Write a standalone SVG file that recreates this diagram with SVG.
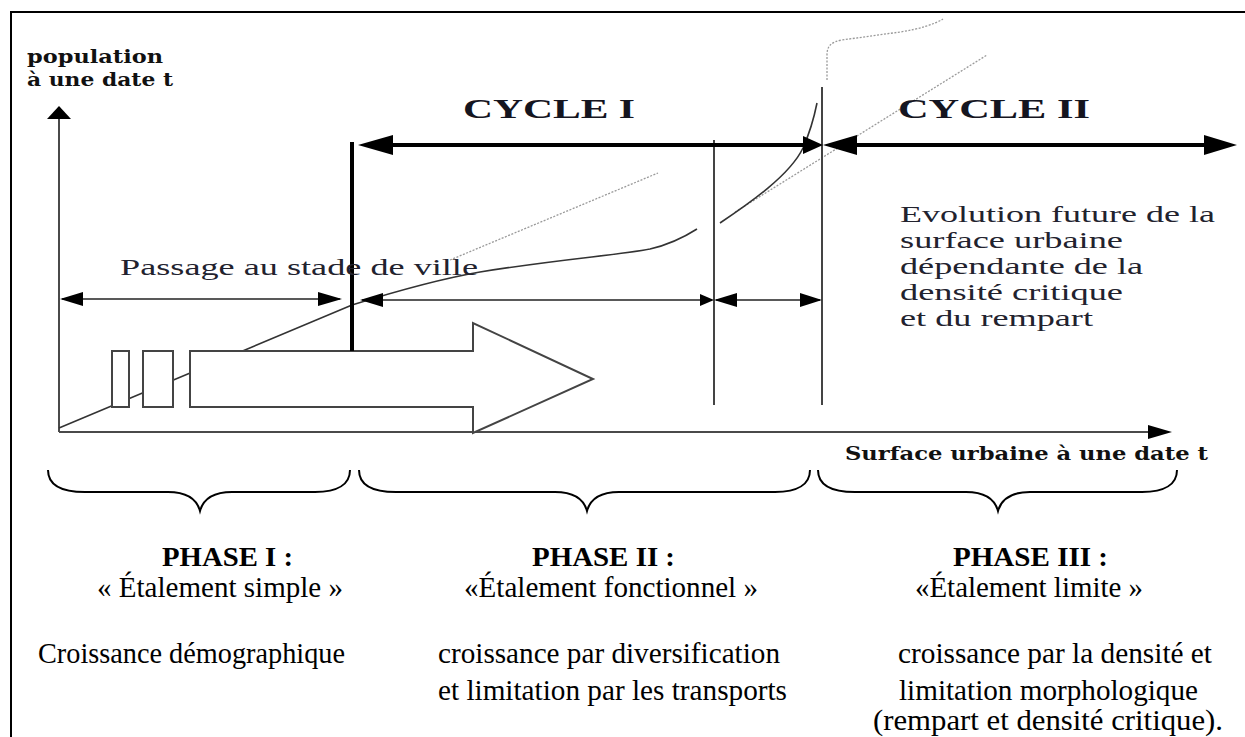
<svg xmlns="http://www.w3.org/2000/svg" width="1245" height="737" viewBox="0 0 1245 737">
  <style>
    .frame { fill: none; stroke: #000; stroke-width: 2; }
    .axis { fill: none; stroke: #4a4a4a; stroke-width: 2; }
    .head { fill: #000; stroke: none; }
    .thin { fill: none; stroke: #222; stroke-width: 1.5; }
    .thick { fill: none; stroke: #000; stroke-width: 4; }
    .guide { fill: none; stroke: #444; stroke-width: 2; }
    .curve { fill: none; stroke: #333; stroke-width: 1.6; }
    .dots { fill: none; stroke: #9a9a9a; stroke-width: 1.3; stroke-dasharray: 2 1.5; }
    .block { fill: #fff; stroke: #444; stroke-width: 2; }
    .brace { fill: none; stroke: #000; stroke-width: 2; }
    .axlabel { font-family: "DejaVu Serif", "Liberation Serif", serif; font-weight: bold; fill: #111; }
    .cycle { font-family: "Liberation Serif", serif; font-weight: bold; font-size: 27px; fill: #15151f; }
    .note { font-family: "Liberation Serif", serif; font-size: 23px; fill: #22222e; }
    .phase { font-family: "Liberation Serif", serif; font-weight: bold; font-size: 28px; fill: #000; }
    .body { font-family: "Liberation Serif", serif; font-size: 29px; fill: #000; }
  </style>

  <!-- outer frame: top and left rules -->
  <path class="frame" d="M11,737 L11,12 L1245,12"/>

  <!-- axes -->
  <g id="axes">
    <path class="axis" d="M59,432 L59,118"/>
    <polygon class="head" points="59,106 47,119 71,119"/>
    <path class="axis" d="M59,432 L1150,432"/>
    <polygon class="head" points="1172,432 1148,425 1148,439"/>
    <text class="axlabel" x="27" y="63" font-size="19" textLength="136" lengthAdjust="spacingAndGlyphs">population</text>
    <text class="axlabel" x="27" y="86" font-size="19" textLength="146" lengthAdjust="spacingAndGlyphs">à une date t</text>
    <text class="axlabel" x="845" y="460" font-size="18" textLength="363" lengthAdjust="spacingAndGlyphs">Surface urbaine à une date t</text>
  </g>

  <!-- growth curves -->
  <g id="curves">
    <path class="dots" d="M450,260 L658,173"/>
    <path class="dots" d="M735,212 L987,55"/>
    <path class="dots" d="M827,80 L827,55 C827,46 831,42 842,40 L900,32 C920,29 935,24 943,19"/>
    <path class="curve" d="M59,428 L352,305 C400,290 440,279 480,272 C560,259 620,255 650,249 C672,244 686,236 697,229"/>
    <path class="curve" d="M720,223 C750,203 790,175 803,148 C810,132 814,118 817,103"/>
  </g>

  <!-- spreading block arrow with its two leading bars -->
  <g id="spread-arrow">
    <rect class="block" x="112" y="351" width="17" height="56"/>
    <rect class="block" x="143" y="351" width="30" height="56"/>
    <polygon class="block" points="190,351 473,351 473,323 593,379 473,433 473,407 190,407"/>
  </g>

  <!-- phase boundaries -->
  <g id="boundaries">
    <path class="thick" d="M352,142 L352,351"/>
    <path class="guide" d="M714,140 L714,405"/>
    <path class="guide" d="M822,87 L822,405"/>
  </g>

  <!-- cycle spans -->
  <g id="cycle-1">
    <text class="cycle" x="463" y="118" textLength="172" lengthAdjust="spacingAndGlyphs">CYCLE I</text>
  </g>
  <g id="cycle-2">
    <text class="cycle" x="898" y="118" textLength="192" lengthAdjust="spacingAndGlyphs">CYCLE II</text>
  </g>

  <g id="connectors">
    <!-- cycle arrows -->
    <path class="thick" d="M385,145 L812,145"/>
    <polygon class="head" points="358,145 393,135 393,155"/>
    <polygon class="head" points="823,145 803,136 803,154"/>
    <path class="thick" d="M850,145 L1210,145"/>
    <polygon class="head" points="823,145 857,135 857,155"/>
    <polygon class="head" points="1237,145 1204,135 1204,155"/>

    <!-- phase spans -->
    <path class="thin" d="M62,299 L340,299"/>
    <polygon class="head" points="60,299 83,292 83,306"/>
    <polygon class="head" points="342,299 318,292 318,306"/>
    <path class="thin" d="M362,300 L712,300"/>
    <polygon class="head" points="360,300 383,293 383,307"/>
    <polygon class="head" points="714,300 700,294 700,306"/>
    <path class="thin" d="M716,300 L820,300"/>
    <polygon class="head" points="714,300 737,293 737,307"/>
    <polygon class="head" points="822,300 800,293 800,307"/>
  </g>

  <g id="labels">
    <text class="note" x="120" y="275" font-size="24" textLength="358" lengthAdjust="spacingAndGlyphs">Passage au stade de ville</text>
    <text class="note" x="900" y="222" textLength="315" lengthAdjust="spacingAndGlyphs">Evolution future de la</text>
    <text class="note" x="900" y="248" textLength="223" lengthAdjust="spacingAndGlyphs">surface urbaine</text>
    <text class="note" x="900" y="274" textLength="243" lengthAdjust="spacingAndGlyphs">dépendante de la</text>
    <text class="note" x="900" y="300" textLength="223" lengthAdjust="spacingAndGlyphs">densité critique</text>
    <text class="note" x="900" y="326" textLength="193" lengthAdjust="spacingAndGlyphs">et du rempart</text>
  </g>

  <!-- braces grouping the three phases -->
  <g id="braces">
    <path class="brace" d="M48,470 C48,484 60,492 85,492 L168,492 C188,492 197,500 200,511 C203,500 212,492 232,492 L315,492 C338,492 350,484 350,470"/>
    <path class="brace" d="M359,470 C359,484 371,492 396,492 L555,492 C575,492 584,500 587,511 C590,500 599,492 619,492 L775,492 C798,492 810,484 810,470"/>
    <path class="brace" d="M818,470 C818,484 830,492 855,492 L966,492 C986,492 995,500 998,511 C1001,500 1010,492 1030,492 L1142,492 C1165,492 1177,484 1177,470"/>
  </g>

  <g id="phase-1">
    <text class="phase" x="162" y="566" textLength="131" lengthAdjust="spacingAndGlyphs">PHASE I :</text>
    <text class="body" x="97" y="597" textLength="246" lengthAdjust="spacingAndGlyphs">« Étalement simple »</text>
    <text class="body" x="38" y="663" textLength="307" lengthAdjust="spacingAndGlyphs">Croissance démographique</text>
  </g>
  <g id="phase-2">
    <text class="phase" x="532" y="566" textLength="143" lengthAdjust="spacingAndGlyphs">PHASE II :</text>
    <text class="body" x="464" y="597" textLength="294" lengthAdjust="spacingAndGlyphs">«Étalement fonctionnel »</text>
    <text class="body" x="438" y="663" textLength="342" lengthAdjust="spacingAndGlyphs">croissance par diversification</text>
    <text class="body" x="438" y="700" textLength="349" lengthAdjust="spacingAndGlyphs">et limitation par les transports</text>
  </g>
  <g id="phase-3">
    <text class="phase" x="953" y="566" textLength="155" lengthAdjust="spacingAndGlyphs">PHASE III :</text>
    <text class="body" x="915" y="597" textLength="228" lengthAdjust="spacingAndGlyphs">«Étalement limite »</text>
    <text class="body" x="898" y="663" textLength="314" lengthAdjust="spacingAndGlyphs">croissance par la densité et</text>
    <text class="body" x="899" y="700" textLength="299" lengthAdjust="spacingAndGlyphs">limitation morphologique</text>
    <text class="body" x="873" y="730" textLength="350" lengthAdjust="spacingAndGlyphs">(rempart et densité critique).</text>
  </g>
</svg>
